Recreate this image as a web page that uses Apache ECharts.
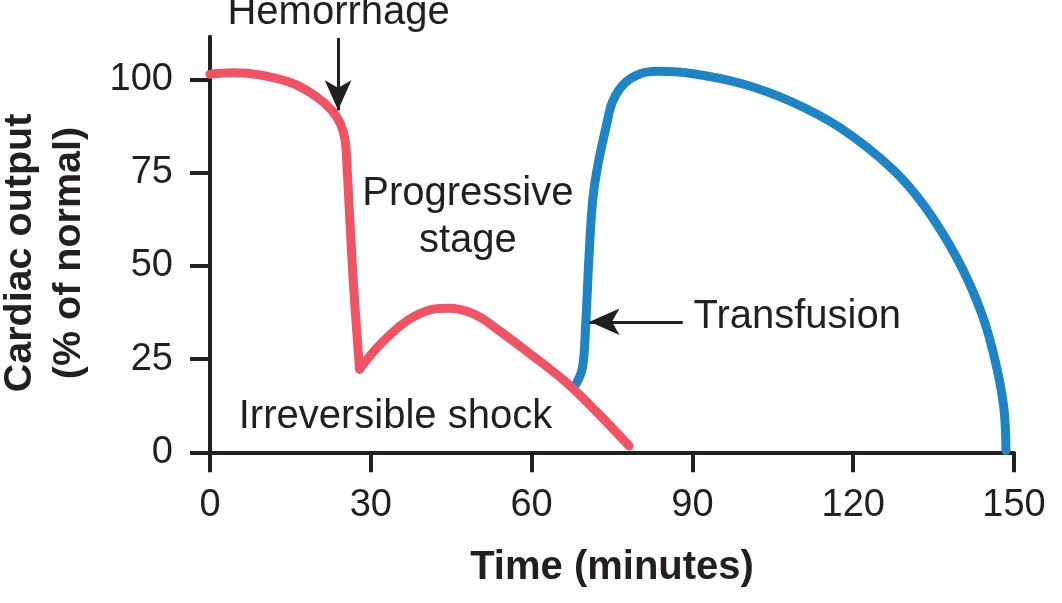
<!DOCTYPE html>
<html>
<head>
<meta charset="utf-8">
<script src="https://cdn.jsdelivr.net/npm/echarts@6/dist/echarts.min.js"></script>
<style>
html, body { margin: 0; padding: 0; background: #fff; }
#chart { width: 1062px; height: 603px; }
</style>
</head>
<body>
<div id="chart"></div>
<script>
// 数据：时间(分钟) / 心输出量(% of normal)
var hemorrhageX = [0, 4.4, 9.3, 15.5, 19.9, 22.7, 24.3, 25.2, 25.6, 25.9, 26.5, 27.1, 27.9];
var hemorrhageY = [101.4, 101.8, 101.2, 98.9, 95.3, 91.7, 88.2, 83.7, 75.6, 67.6, 51.4, 38, 22.3];

var shockX = [27.9, 31.8, 36.8, 41.1, 44.3, 49.2, 53.6, 59.8, 66.1, 72.3, 78.2];
var shockY = [22.3, 29, 35.3, 38.2, 38.6, 37.1, 33, 26.3, 19.2, 10.6, 1.7];

var transfusionX = [68.3, 69.5, 70.1, 70.7, 71.4, 72.3, 73.9, 75.1, 77.3, 80.4, 83.5, 89.8, 99.1, 108.5, 117.8, 127.2, 133.4, 139.6, 144, 146.5, 148.1, 148.5];
var transfusionY = [18.3, 22.7, 34.4, 52.3, 67.6, 76.5, 87.3, 94, 98.9, 101.6, 102.2, 101.6, 98.9, 94, 86.8, 76.1, 65.8, 51.4, 37.1, 24.5, 12, 0.5];

var xTicks = [0, 30, 60, 90, 120, 150];
var yTicks = [0, 25, 50, 75, 100];

// 注释文字（数据坐标）
var noteText = ['Hemorrhage', 'Progressive\nstage', 'Irreversible shock', 'Transfusion'];
var noteX = [24, 48.1, 34.6, 90.2];
var noteY = [117.8, 63.1, 9.35, 36.4];
var noteAlign = ['center', 'center', 'center', 'left'];

// 箭头（数据坐标）
var hemorrhageArrow = [[23.9, 111.1], [23.9, 91.7]];
var transfusionArrow = [[88.2, 35], [70.8, 35]];

var INK = '#231f20';
var FONT = '"Liberation Sans", Arial, Helvetica, sans-serif';

function zip(xs, ys) {
	var out = [];
	for (var i = 0; i < xs.length; i++) out.push([xs[i], ys[i]]);
	return out;
}

function arrowLine(pts) {
	return {
		silent: true,
		symbol: ['none', 'arrow'],
		symbolSize: [20, 30],
		label: { show: false },
		lineStyle: { color: INK, width: 3, type: 'solid' },
		emphasis: { disabled: true },
		data: [[{ coord: pts[0] }, { coord: pts[1] }]]
	};
}

var chart = echarts.init(document.getElementById('chart'));

var option = {
	animation: false,
	backgroundColor: '#fff',
	textStyle: { fontFamily: FONT },
	grid: { left: 210, right: 48, top: 36.7, bottom: 150.7, containLabel: false, outerBoundsMode: 'none' },
	xAxis: {
		type: 'value',
		min: 0,
		max: 150,
		interval: 30,
		name: 'Time (minutes)',
		nameLocation: 'middle',
		nameGap: 96,
		nameTextStyle: { color: INK, fontSize: 40, fontWeight: 'bold', fontFamily: FONT },
		axisLine: { lineStyle: { color: INK, width: 4 } },
		axisTick: { length: 20, lineStyle: { color: INK, width: 4 }, customValues: xTicks },
		axisLabel: { color: INK, fontSize: 38, margin: 34, fontFamily: FONT, customValues: xTicks },
		splitLine: { show: false }
	},
	yAxis: {
		type: 'value',
		min: 0,
		max: 111.45,
		name: 'Cardiac output\n(% of normal)',
		nameLocation: 'middle',
		nameRotate: 90,
		nameGap: 116,
		nameTextStyle: { color: INK, fontSize: 39.5, fontWeight: 'bold', lineHeight: 49, padding: [0, 17, 0, 0], fontFamily: FONT },
		axisLine: { lineStyle: { color: INK, width: 4 } },
		axisTick: { length: 20, lineStyle: { color: INK, width: 4 }, customValues: yTicks },
		axisLabel: { color: INK, fontSize: 38, margin: 37, fontFamily: FONT, customValues: yTicks },
		splitLine: { show: false }
	},
	series: [
		{
			name: 'Transfusion',
			type: 'line',
			data: zip(transfusionX, transfusionY),
			smooth: 0.35,
			symbol: 'none',
			lineStyle: { color: '#1e84c6', width: 9, cap: 'round', join: 'round' },
			markLine: arrowLine(transfusionArrow),
			z: 2
		},
		{
			name: 'Hemorrhage',
			type: 'line',
			data: zip(hemorrhageX, hemorrhageY),
			smooth: 0.35,
			symbol: 'none',
			lineStyle: { color: '#f05464', width: 9, cap: 'round', join: 'round' },
			markLine: arrowLine(hemorrhageArrow),
			z: 3
		},
		{
			name: 'Shock',
			type: 'line',
			data: zip(shockX, shockY),
			smooth: 0.35,
			symbol: 'none',
			lineStyle: { color: '#f05464', width: 9, cap: 'round', join: 'round' },
			z: 3
		}
	]
};

chart.setOption(option);

// 注释文字
var notes = [];
for (var i = 0; i < noteText.length; i++) {
	var p = chart.convertToPixel({ gridIndex: 0 }, [noteX[i], noteY[i]]);
	notes.push({
		type: 'text',
		x: p[0],
		y: p[1],
		silent: true,
		z: 10,
		style: {
			text: noteText[i],
			fill: INK,
			font: '40px ' + FONT,
			lineHeight: 47,
			align: noteAlign[i],
			verticalAlign: 'middle'
		}
	});
}
chart.setOption({ graphic: notes });
</script>
</body>
</html>
